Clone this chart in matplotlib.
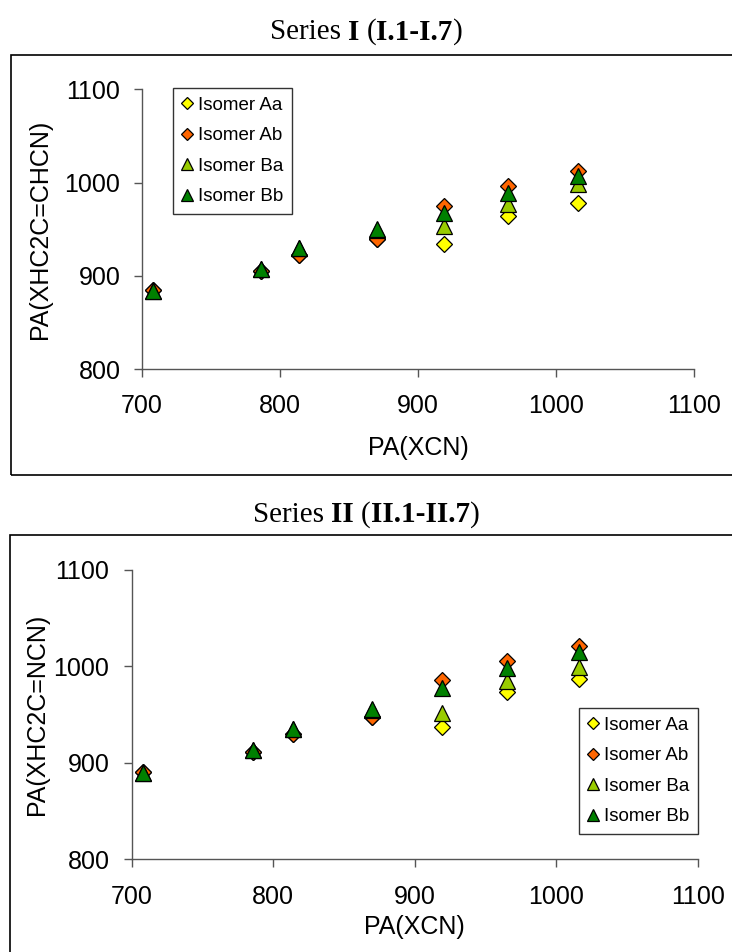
import matplotlib
matplotlib.use('Agg')
import matplotlib.pyplot as plt
from matplotlib.patches import Rectangle

# data
pa_xcn = [708, 786, 814, 870, 919, 965, 1016]

series_labels = ['Isomer Aa', 'Isomer Ab', 'Isomer Ba', 'Isomer Bb']

top_aa = [885, 905, 923, 940, 934, 964, 978]
top_ab = [885, 905, 923, 940, 975, 996, 1013]
top_ba = [884, 907, 930, 949, 954, 977, 999]
top_bb = [884, 907, 930, 950, 968, 989, 1007]

bot_aa = [891, 911, 930, 948, 937, 973, 987]
bot_ab = [891, 911, 930, 948, 986, 1006, 1021]
bot_ba = [890, 913, 935, 955, 952, 985, 999]
bot_bb = [890, 913, 935, 956, 978, 998, 1015]

ticks = [700, 800, 900, 1000, 1100]
yticks = [800, 900, 1000, 1100]

W, H = 732, 952
fig = plt.figure(figsize=(W / 100, H / 100), dpi=100)

styles = [('D', '#FFFF00', 8.6), ('D', '#FF6600', 8.6),
          ('^', '#99CC00', 11.5), ('^', '#008000', 11.5)]

sans = 'Liberation Sans'
serif = 'Liberation Serif'


def px_box(x0, y0, x1, y1):
    # pixel box (top-left origin) -> figure fraction rect
    return [x0 / W, 1 - y1 / H, (x1 - x0) / W, (y1 - y0) / H]


def make_panel(rect, ys, ylabel, leg_xy, ylab_x, xlab_y, xpad, ypad):
    ax = fig.add_axes(rect)
    for (m, c, ms), y, lab in zip(styles, ys, series_labels):
        ax.plot(pa_xcn, y, linestyle='none', marker=m, ms=ms, mfc=c,
                mec='black', mew=0.9, label=lab, clip_on=False)
    ax.set_xlim(700, 1100)
    ax.set_ylim(800, 1100)
    ax.set_xticks(ticks)
    ax.set_yticks(yticks)
    for s in ['top', 'right']:
        ax.spines[s].set_visible(False)
    for s in ['left', 'bottom']:
        ax.spines[s].set_color('#555555')
        ax.spines[s].set_linewidth(1.0)
    ax.tick_params(direction='out', length=6, width=1.0, color='#555555',
                   labelsize=18)
    ax.tick_params(axis='x', pad=xpad)
    ax.tick_params(axis='y', pad=ypad)
    for t in ax.get_xticklabels() + ax.get_yticklabels():
        t.set_fontfamily(sans)
    fig.text(ylab_x / W, rect[1] + rect[3] / 2, ylabel, rotation=90,
             ha='center', va='center', fontsize=18, family=sans)
    fig.text(rect[0] + rect[2] / 2, 1 - xlab_y / H, 'PA(XCN)',
             ha='center', va='center', fontsize=18, family=sans)
    leg = ax.legend(loc='upper left', bbox_to_anchor=(leg_xy[0] / W, 1 - leg_xy[1] / H),
                    bbox_transform=fig.transFigure, borderaxespad=0,
                    prop={'family': sans, 'size': 13.5}, markerscale=0.72,
                    handlelength=0.6, handletextpad=0.3, labelspacing=0.72,
                    borderpad=0.45, fancybox=False, framealpha=1,
                    edgecolor='#333333')
    leg.get_frame().set_linewidth(1.0)
    return ax


make_panel(px_box(142, 89.3, 694, 369.3), [top_aa, top_ab, top_ba, top_bb],
           'PA(XHC2C=CHCN)', (173, 88), 40, 448, 11.5, 9.5)
make_panel(px_box(131.7, 570, 698, 859.3), [bot_aa, bot_ab, bot_ba, bot_bb],
           'PA(XHC2C=NCN)', (579, 708), 37, 927, 12.5, 10)

# outer frames around each chart
fig.patches.append(Rectangle((11 / W, 1 - 475 / H), 1, (475 - 55) / H,
                             transform=fig.transFigure, fill=False,
                             edgecolor='black', linewidth=1.2))
fig.patches.append(Rectangle((10 / W, -0.1), 1, 0.1 + (952 - 535) / H,
                             transform=fig.transFigure, fill=False,
                             edgecolor='black', linewidth=1.2))

# titles with bold parts
r = fig.canvas.get_renderer()


def mixed_title(pieces, y_px, size=21):
    sp = fig.text(0, 0, 'a a', family=serif, fontsize=size)
    nsp = fig.text(0, 0, 'aa', family=serif, fontsize=size)
    space = sp.get_window_extent(r).width - nsp.get_window_extent(r).width
    sp.remove()
    nsp.remove()
    texts = []
    for s, bold, gap in pieces:
        t = fig.text(0, 1 - y_px / H, s, family=serif, fontsize=size,
                     fontweight='bold' if bold else 'normal', va='center')
        texts.append((t, gap))
    widths = [t.get_window_extent(r).width + g * space for t, g in texts]
    x = W / 2 - sum(widths) / 2
    for (t, g), w in zip(texts, widths):
        t.set_x(x / W)
        x += w


mixed_title([('Series', False, 1), ('I', True, 1), ('(', False, 0),
             ('I.1-I.7', True, 0), (')', False, 0)], 32)
mixed_title([('Series', False, 1), ('II', True, 1), ('(', False, 0),
             ('II.1-II.7', True, 0), (')', False, 0)], 515)

fig.savefig('out.png', dpi=100)
